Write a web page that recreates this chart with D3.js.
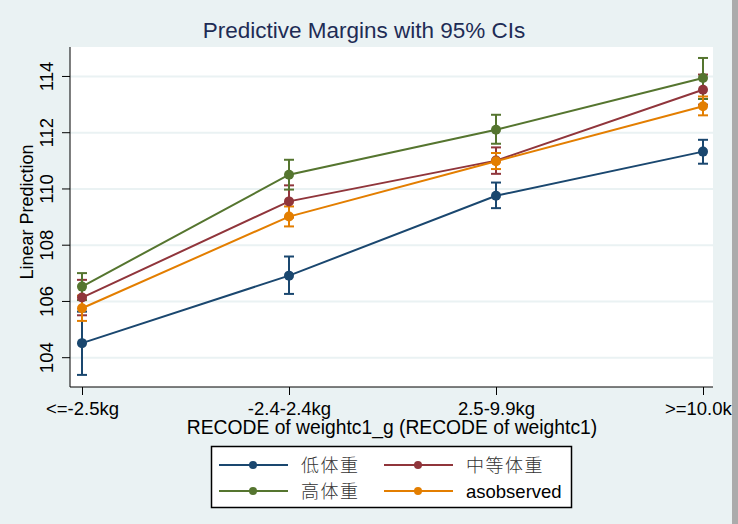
<!DOCTYPE html>
<html>
<head>
<meta charset="utf-8">
<script src="https://cdn.jsdelivr.net/npm/d3@7"></script>
<style>
  body { margin: 0; background: #eaf2f3; overflow: hidden; }
  svg { display: block; }
</style>
</head>
<body>
<svg id="chart"></svg>
<script>
// categories on the x axis
let categories = ["<=-2.5kg", "-2.4-2.4kg", "2.5-9.9kg", ">=10.0kg"];
let yTicks = [104, 106, 108, 110, 112, 114];

// series names, margins and 95% CI bounds
let seriesNames = ["低体重", "中等体重", "高体重", "asobserved"];
let lowWeight = [104.50, 106.90, 109.74, 111.31];
let lowWeightLo = [103.37, 106.25, 109.30, 110.88];
let lowWeightHi = [105.62, 107.58, 110.21, 111.73];
let midWeight = [106.12, 109.54, 110.99, 113.51];
let midWeightLo = [105.49, 108.97, 110.52, 112.98];
let midWeightHi = [106.75, 110.11, 111.46, 114.05];
let highWeight = [106.51, 110.49, 112.09, 113.93];
let highWeightLo = [106.03, 109.96, 111.59, 113.18];
let highWeightHi = [106.99, 111.02, 112.62, 114.64];
let observed = [105.74, 109.00, 110.97, 112.92];
let observedLo = [105.29, 108.65, 110.69, 112.60];
let observedHi = [106.19, 109.36, 111.26, 113.27];

let colors = ["#1a476f", "#90353b", "#55752f", "#e37e00"];

let W = 738, H = 524;
let plot = {left: 70, right: 713, top: 47, bottom: 387};

let svg = d3.select("#chart").attr("width", W).attr("height", H);

svg.append("rect").attr("width", W).attr("height", H).attr("fill", "#eaf2f3");

let series = [
	{name: seriesNames[0], v: lowWeight, lo: lowWeightLo, hi: lowWeightHi, color: colors[0]},
	{name: seriesNames[1], v: midWeight, lo: midWeightLo, hi: midWeightHi, color: colors[1]},
	{name: seriesNames[2], v: highWeight, lo: highWeightLo, hi: highWeightHi, color: colors[2]},
	{name: seriesNames[3], v: observed, lo: observedLo, hi: observedHi, color: colors[3]}
];

let x = d3.scalePoint()
	.domain(categories)
	.range([82, 703]);

let y = d3.scaleLinear()
	.domain([102.94, 115.03])
	.range([plot.bottom, plot.top]);

// plot region
svg.append("rect")
	.attr("x", plot.left).attr("y", plot.top)
	.attr("width", plot.right - plot.left).attr("height", plot.bottom - plot.top)
	.attr("fill", "white");

// grid lines
svg.append("g")
	.attr("transform", "translate(" + plot.left + ",0)")
	.call(d3.axisLeft(y).tickValues(yTicks).tickSize(-(plot.right - plot.left)).tickFormat(""))
	.call(g => g.select(".domain").remove())
	.call(g => g.selectAll("line").attr("stroke", "#eaf2f3").attr("stroke-width", 2));

// y axis
let yAxis = svg.append("g")
	.attr("transform", "translate(" + plot.left + ",0)")
	.call(d3.axisLeft(y).tickValues(yTicks).tickSize(8).tickSizeOuter(0).tickFormat(d3.format("d")));
yAxis.select(".domain").attr("d", "M0," + plot.top + "V" + plot.bottom).attr("stroke", "black");
yAxis.selectAll(".tick line").attr("stroke", "black");
yAxis.selectAll(".tick text")
	.attr("transform", "rotate(-90)")
	.attr("x", 0).attr("y", -17).attr("dy", 0)
	.attr("text-anchor", "middle")
	.style("font-family", "Liberation Sans, Arial, sans-serif")
	.style("font-size", "18.5px")
	.attr("fill", "black");

// x axis
let xAxis = svg.append("g")
	.attr("transform", "translate(0," + plot.bottom + ")")
	.call(d3.axisBottom(x).tickSize(8).tickSizeOuter(0));
xAxis.select(".domain").attr("d", "M" + plot.left + ",0H" + plot.right).attr("stroke", "black");
xAxis.selectAll(".tick line").attr("stroke", "black");
xAxis.selectAll(".tick text")
	.attr("y", 28).attr("dy", 0)
	.style("font-family", "Liberation Sans, Arial, sans-serif")
	.style("font-size", "18.5px")
	.attr("fill", "black");

// confidence intervals first
series.forEach(function(s) {
	let g = svg.append("g").attr("stroke", s.color).attr("stroke-width", 2);
	categories.forEach(function(c, i) {
		g.append("line").attr("x1", x(c)).attr("x2", x(c)).attr("y1", y(s.lo[i])).attr("y2", y(s.hi[i]));
		g.append("line").attr("x1", x(c) - 5).attr("x2", x(c) + 5).attr("y1", y(s.lo[i])).attr("y2", y(s.lo[i]));
		g.append("line").attr("x1", x(c) - 5).attr("x2", x(c) + 5).attr("y1", y(s.hi[i])).attr("y2", y(s.hi[i]));
	});
});

// connected lines and markers
let line = d3.line().x((d, i) => x(categories[i])).y(d => y(d));
series.forEach(function(s) {
	svg.append("path")
		.attr("d", line(s.v))
		.attr("fill", "none")
		.attr("stroke", s.color)
		.attr("stroke-width", 2);
	svg.append("g").selectAll("circle")
		.data(s.v)
		.enter()
		.append("circle")
		.attr("cx", (d, i) => x(categories[i]))
		.attr("cy", d => y(d))
		.attr("r", 5)
		.attr("fill", s.color);
});

// titles
svg.append("text")
	.attr("x", 364).attr("y", 38)
	.attr("text-anchor", "middle")
	.style("font-family", "Liberation Sans, Arial, sans-serif")
	.style("font-size", "22.5px")
	.attr("fill", "#1e2c55")
	.text("Predictive Margins with 95% CIs");

svg.append("text")
	.attr("x", 392).attr("y", 434)
	.attr("text-anchor", "middle")
	.style("font-family", "Liberation Sans, Arial, sans-serif")
	.style("font-size", "19.3px")
	.attr("fill", "black")
	.text("RECODE of weightc1_g (RECODE of weightc1)");

svg.append("text")
	.attr("transform", "translate(33," + ((plot.top + plot.bottom) / 2 - 5) + ") rotate(-90)")
	.attr("text-anchor", "middle")
	.style("font-family", "Liberation Sans, Arial, sans-serif")
	.style("font-size", "18px")
	.attr("fill", "black")
	.text("Linear Prediction");

// legend
let legend = svg.append("g");
legend.append("rect")
	.attr("x", 211.5).attr("y", 446.5)
	.attr("width", 360).attr("height", 61)
	.attr("fill", "white").attr("stroke", "black").attr("stroke-width", 1.5);

let legendPos = [[219, 465], [384, 465], [219, 491], [384, 491]];
series.forEach(function(s, i) {
	let p = legendPos[i];
	let g = legend.append("g").attr("transform", "translate(" + p[0] + "," + p[1] + ")");
	g.append("line").attr("x1", 0).attr("x2", 69).attr("y1", 0).attr("y2", 0)
		.attr("stroke", s.color).attr("stroke-width", 2);
	g.append("circle").attr("cx", 34).attr("cy", 0).attr("r", 4).attr("fill", s.color);
	let t = g.append("text").attr("x", 82).attr("y", 7).text(s.name);
	if (i == 3) {
		t.style("font-family", "Liberation Sans, Arial, sans-serif").style("font-size", "18.5px").attr("fill", "black");
	} else {
		t.style("font-family", "Noto Sans CJK SC").style("font-size", "18px")
			.style("font-weight", 300).style("letter-spacing", "1.5px").attr("fill", "#333");
	}
});

// window scrollbar strip at the right edge
svg.append("rect").attr("x", 732).attr("y", 0).attr("width", 6).attr("height", H).attr("fill", "#ababab");
</script>
</body>
</html>
